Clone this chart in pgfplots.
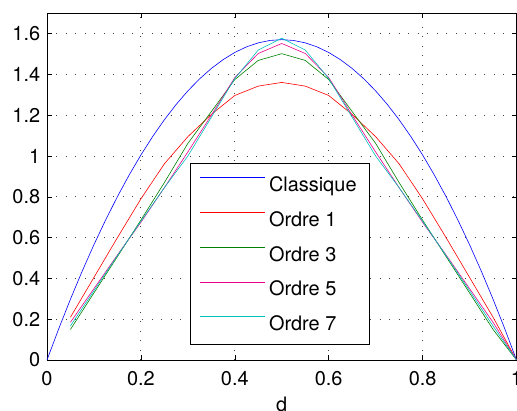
\documentclass[border=0pt]{standalone}
\usepackage{fontspec}
\setmainfont{TeX Gyre Heros}
\usepackage{pgfplots}
\pgfplotsset{compat=1.18}

\definecolor{mgreen}{rgb}{0,0.5,0}
\definecolor{mcyan}{rgb}{0,0.75,0.75}

\begin{document}
\fontsize{20}{24}\selectfont
\begin{tikzpicture}[font=\fontsize{20}{24}\selectfont]
\begin{axis}[
  scale only axis,
  width=469.5bp, height=346.7bp,
  xmin=0, xmax=1, ymin=0, ymax=1.7,
  xtick={0,0.2,0.4,0.6,0.8,1},
  ytick={0,0.2,0.4,0.6,0.8,1,1.2,1.4,1.6},
  /pgf/number format/assume math mode=true,
  xticklabel style={yshift=-5bp},
  tick align=inside,
  major tick length=5bp,
  tick style={black, line width=0.6bp},
  axis line style={line width=0.8bp},
  grid=major,
  grid style={black!75, line width=0.9bp, dash pattern=on 0.9bp off 8.6bp},
  xlabel={d},
  xlabel style={at={(0.5,0)}, anchor=north, yshift=-30bp},
  legend style={at={(0.3046,0.043)}, anchor=south west,
    draw=black, line width=0.8bp, inner xsep=9.5bp, inner ysep=13bp,
    row sep=18.75bp,
    nodes={inner xsep=3.5bp, inner ysep=0bp, text height=15bp, text depth=1bp}},
  legend cell align=left,
  legend image code/.code={\path (0bp,7bp) -- (65bp,7bp);
    \draw[#1] (0bp,7bp) -- (62bp,7bp);},
  every axis plot/.append style={line width=0.6bp},
]
\addplot[blue] coordinates {
(0,0) (0.025,0.1532) (0.05,0.2985) (0.075,0.4359) (0.1,0.5655) (0.125,0.6872)
(0.15,0.8011) (0.175,0.9071) (0.2,1.0053) (0.225,1.0956) (0.25,1.1781)
(0.275,1.2527) (0.3,1.3195) (0.325,1.3784) (0.35,1.4294) (0.375,1.4726)
(0.4,1.5080) (0.425,1.5355) (0.45,1.5551) (0.475,1.5669) (0.5,1.5708)
(0.525,1.5669) (0.55,1.5551) (0.575,1.5355) (0.6,1.5080) (0.625,1.4726)
(0.65,1.4294) (0.675,1.3784) (0.7,1.3195) (0.725,1.2527) (0.75,1.1781)
(0.775,1.0956) (0.8,1.0053) (0.825,0.9071) (0.85,0.8011) (0.875,0.6872)
(0.9,0.5655) (0.925,0.4359) (0.95,0.2985) (0.975,0.1532) (1,0)
};
\addlegendentry{Classique}
\addplot[red] coordinates {
(0.05,0.210) (0.1,0.405) (0.15,0.600) (0.2,0.790) (0.25,0.962) (0.3,1.095)
(0.35,1.204) (0.4,1.297) (0.45,1.343) (0.5,1.361) (0.55,1.343) (0.6,1.297)
(0.65,1.204) (0.7,1.095) (0.75,0.962) (0.8,0.790) (0.85,0.600) (0.9,0.405)
(0.95,0.210) (1,0)
};
\addlegendentry{Ordre 1}
\addplot[mgreen] coordinates {
(0.05,0.150) (0.1,0.329) (0.15,0.507) (0.2,0.686) (0.25,0.870) (0.3,1.062)
(0.35,1.218) (0.4,1.375) (0.45,1.469) (0.5,1.502) (0.55,1.469) (0.6,1.375)
(0.65,1.218) (0.7,1.062) (0.75,0.870) (0.8,0.686) (0.85,0.507) (0.9,0.329)
(0.95,0.150) (1,0)
};
\addlegendentry{Ordre 3}
\addplot[magenta] coordinates {
(0.05,0.185) (0.1,0.350) (0.15,0.515) (0.2,0.675) (0.25,0.845) (0.3,1.020)
(0.35,1.200) (0.4,1.385) (0.45,1.503) (0.5,1.552) (0.55,1.503) (0.6,1.385)
(0.65,1.200) (0.7,1.020) (0.75,0.845) (0.8,0.675) (0.85,0.515) (0.9,0.350)
(0.95,0.185) (1,0)
};
\addlegendentry{Ordre 5}
\addplot[mcyan] coordinates {
(0.05,0.167) (0.1,0.340) (0.15,0.512) (0.2,0.680) (0.25,0.845) (0.3,1.000)
(0.35,1.190) (0.4,1.380) (0.45,1.520) (0.5,1.578) (0.55,1.520) (0.6,1.380)
(0.65,1.190) (0.7,1.000) (0.75,0.845) (0.8,0.680) (0.85,0.512) (0.9,0.340)
(0.95,0.167) (1,0)
};
\addlegendentry{Ordre 7}
\end{axis}
\pgfresetboundingbox
\useasboundingbox ([xshift=-47bp,yshift=-51bp]current axis.south west)
  rectangle ([xshift=0.5bp,yshift=13.3bp]current axis.north east);
\end{tikzpicture}
\end{document}
